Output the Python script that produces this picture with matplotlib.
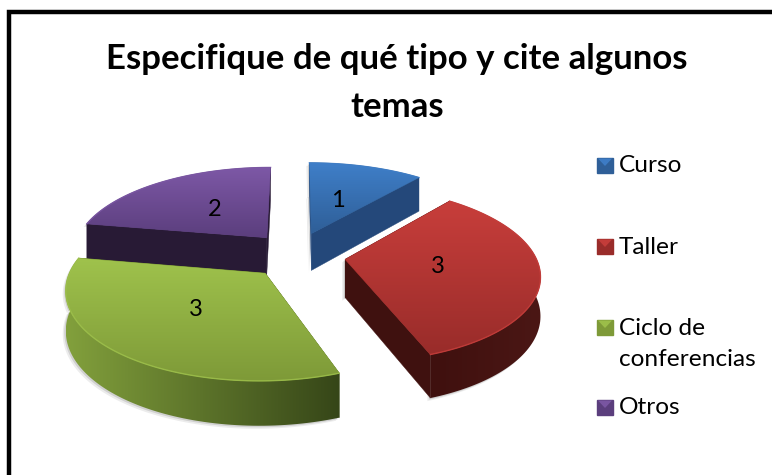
import numpy as np
import matplotlib
matplotlib.use("Agg")
import matplotlib.pyplot as plt
from matplotlib.colors import LinearSegmentedColormap
from matplotlib.patches import Polygon

plt.rcParams['font.family'] = ['Lato', 'DejaVu Sans']

title = "Especifique de qué tipo y cite algunos\ntemas"
categories = ["Curso", "Taller", "Ciclo de\nconferencias", "Otros"]
values = [1, 3, 3, 2]

# colours: top face light/dark, rim light/dark, radial face
top_light = ["#3f7fc9", "#c83e3b", "#9fc24c", "#7d58a6"]
top_dark = ["#2f5f98", "#992c2a", "#7e9a38", "#5b3e7d"]
rim_light = ["#2a5585", "#3f100e", "#82a03c", "#2a1c3a"]
rim_dark = ["#234670", "#4b1715", "#364618", "#271a35"]
side_col = ["#24487a", "#3f110f", "#3a4a1a", "#281a35"]

# pie placement in pixels, the 3d look is a simple perspective
cx, cy = 298, 253
R, Rs = 198, 88
persp = 0.17
depth = 38
explode = 0.22

# small per slice corrections for the perspective of the original
slice_r = [1.0, 0.96, 0.96, 0.98]
slice_dx = [-1, 4, -4, -4]
slice_dy = [-2, 3, 5, -1]
label_r = [0.45, 0.48, 0.5, 0.47]

W, H = 772, 475


def project(x, y, h=0.0):
    s = 1 / (1 + persp * y)
    return (cx + R * x * s,
            cy - Rs * y * s + h * depth / (1 + 0.8 * persp * y))


def slice_point(i, mid, t, r=1.0, h=0.0):
    r = r * slice_r[i]
    x = explode * np.cos(mid) + r * np.cos(t)
    y = explode * np.sin(mid) + r * np.sin(t)
    u, v = project(x, y, h)
    return u + slice_dx[i], v + slice_dy[i]


def gradient_fill(ax, pts, c1, c2, vertical=True, zorder=2):
    cmap = LinearSegmentedColormap.from_list("g", [c1, c2])
    pts = np.array(pts)
    x0, x1 = pts[:, 0].min(), pts[:, 0].max()
    y0, y1 = pts[:, 1].min(), pts[:, 1].max()
    ramp = np.linspace(0, 1, 128)
    grad = ramp.reshape(-1, 1) if vertical else ramp.reshape(1, -1)
    im = ax.imshow(grad, cmap=cmap, extent=(x0, x1, y1, y0), aspect="auto", zorder=zorder,
                   interpolation="bilinear")
    poly = Polygon(pts, closed=True, transform=ax.transData, fc="none", ec="none")
    ax.add_patch(poly)
    im.set_clip_path(poly)


def draw_slice(ax, i, start, end, z):
    mid = np.radians((start + end) / 2)
    angles = np.radians(np.linspace(start, end, 90))
    apex = slice_point(i, mid, 0, 0)
    arc = [slice_point(i, mid, t) for t in angles]
    outline = [apex] + arc + [slice_point(i, mid, t, 1, 1) for t in angles[::-1]] + [slice_point(i, mid, 0, 0, 1)]

    # soft grey shadow just off the solid
    for off, col in ((3, "#ececec"), (1.5, "#d0d0d0")):
        ax.add_patch(Polygon(np.array(outline) + [-off, off], closed=True, fc=col, ec="none", zorder=z))

    # radial walls
    for t in (angles[0], angles[-1]):
        wall = [apex, slice_point(i, mid, t), slice_point(i, mid, t, 1, 1), slice_point(i, mid, 0, 0, 1)]
        ax.add_patch(Polygon(wall, closed=True, fc=side_col[i], ec=side_col[i], lw=0.3, zorder=z + 0.1))

    # outer rim, only the part turned to the viewer
    front = [t for t in angles if np.sin(t) < 0.12]
    if len(front) > 1:
        rim = [slice_point(i, mid, t) for t in front] + [slice_point(i, mid, t, 1, 1) for t in front[::-1]]
        gradient_fill(ax, rim, rim_light[i], rim_dark[i], vertical=False, zorder=z + 0.2)

    # top face
    top = [apex] + arc
    ax.add_patch(Polygon(top, closed=True, fc=top_dark[i], ec=top_dark[i], lw=0.6, zorder=z + 0.25))
    gradient_fill(ax, top, top_light[i], top_dark[i], zorder=z + 0.3)
    ax.plot(*zip(*arc), color=top_light[i], lw=1.0, alpha=0.8, zorder=z + 0.4)


def main():
    fig = plt.figure(figsize=(W / 100, H / 100), dpi=100)
    ax = fig.add_axes([0, 0, 1, 1])
    ax.set_xlim(0, W)
    ax.set_ylim(H, 0)
    ax.axis("off")

    # chart frame, only left and top fall inside the picture
    ax.plot([8.5, 8.5, W], [H, 12, 12], color="black", lw=3.2, solid_joinstyle="miter", zorder=1)

    total = sum(values)
    bounds = [90.0]
    for v in values:
        bounds.append(bounds[-1] - 360.0 * v / total)

    # back slices first
    order = [3, 0, 1, 2]
    for z, i in enumerate(order):
        draw_slice(ax, i, bounds[i], bounds[i + 1], 2 + z)

    for i, v in enumerate(values):
        mid = np.radians((bounds[i] + bounds[i + 1]) / 2)
        lx, ly = slice_point(i, mid, mid, label_r[i])
        ax.text(lx, ly, str(v), fontsize=17, ha="center", va="center", color="black", zorder=10)

    ax.text(397, 83, title, fontsize=25, fontweight="bold", ha="center", va="center",
            linespacing=1.6, color="black", zorder=10)

    # legend
    leg_y = [165, 246, 327, 407]
    text_y = [166, 247, 344, 408]
    for i, cat in enumerate(categories):
        y = leg_y[i]
        x0, x1, y0, y1 = 597, 613, y - 7.5, y + 7.5
        ax.add_patch(Polygon([(x0, y0), (x1, y0), (x1, y1), (x0, y1)], closed=True, fc=top_dark[i],
                             ec=top_dark[i], lw=1, zorder=5))
        ax.add_patch(Polygon([(x0 + 1, y0 + 1), (x1 - 1, y0 + 1), ((x0 + x1) / 2, (y0 + y1) / 2 + 1)],
                             closed=True, fc=top_light[i], ec="none", alpha=0.9, zorder=6))
        ax.text(619, text_y[i], cat, fontsize=17.6, ha="left", va="center", linespacing=1.55,
                color="black", zorder=10)

    fig.savefig("out.png", dpi=100)


if __name__ == "__main__":
    main()
